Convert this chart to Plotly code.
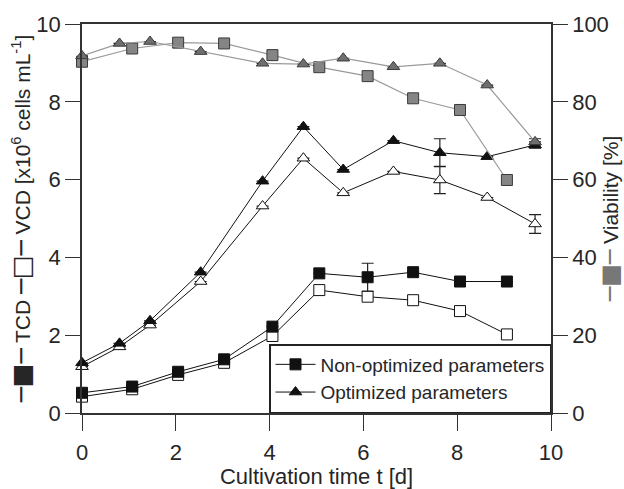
import plotly.graph_objects as go

# ---- data ----
t_non = [0, 1.07, 2.05, 3.03, 4.06, 5.06, 6.09, 7.06, 8.06, 9.06]
tcd_non = [0.52, 0.68, 1.06, 1.38, 2.22, 3.59, 3.49, 3.62, 3.38, 3.38]
tcd_non_err = [0, 0, 0, 0, 0, 0, 0.36, 0, 0, 0]
vcd_non = [0.42, 0.61, 0.98, 1.29, 1.98, 3.16, 2.99, 2.90, 2.62, 2.02]
via_non = [90.3, 93.7, 95.2, 95.0, 92.0, 88.9, 86.6, 80.9, 77.9, 59.9]

t_opt = [0, 0.80, 1.45, 2.53, 3.85, 4.72, 5.57, 6.64, 7.63, 8.64, 9.66]
tcd_opt = [1.29, 1.79, 2.37, 3.62, 5.96, 7.36, 6.26, 7.00, 6.69, 6.59, 6.89]
tcd_opt_err = [0, 0, 0, 0, 0, 0, 0, 0, 0.36, 0, 0.08]
vcd_opt = [1.19, 1.70, 2.26, 3.38, 5.32, 6.55, 5.66, 6.21, 5.99, 5.54, 4.86]
vcd_opt_err = [0, 0, 0, 0, 0, 0, 0, 0, 0.35, 0, 0.24]
via_opt = [91.8, 95.0, 95.5, 92.9, 89.9, 89.7, 91.2, 89.0, 89.9, 84.3, 69.7]
via_opt_err = [0, 0, 0, 0, 0, 0, 0, 0, 0, 0, 0.8]

x_ticks = [0, 2, 4, 6, 8, 10]
y_ticks = [0, 2, 4, 6, 8, 10]
y2_ticks = [0, 20, 40, 60, 80, 100]

FONT = "Liberation Sans, Arial, DejaVu Sans, sans-serif"
TXT = "#262626"
AX = "#333333"

fig = go.Figure()

def err(vals):
    return dict(type="data", array=vals, visible=True, color="#222222",
                thickness=1.2, width=6)

# viability lines (right axis)
fig.add_trace(go.Scatter(
    x=t_non, y=via_non, yaxis="y2", mode="lines+markers", showlegend=False,
    line=dict(color="#9a9a9a", width=1.2), cliponaxis=False,
    marker=dict(symbol="square", size=11, color="#858585",
                line=dict(color="#3a3a3a", width=1))))
fig.add_trace(go.Scatter(
    x=t_opt, y=via_opt, yaxis="y2", mode="lines+markers", showlegend=False,
    line=dict(color="#9a9a9a", width=1.2), cliponaxis=False,
    error_y=err(via_opt_err),
    marker=dict(symbol="triangle-up", size=11, color="#6f6f6f",
                line=dict(color="#3a3a3a", width=1))))

# VCD (open) traces
fig.add_trace(go.Scatter(
    x=t_non, y=vcd_non, mode="lines+markers", showlegend=False,
    line=dict(color="#111111", width=1), cliponaxis=False,
    marker=dict(symbol="square", size=11, color="white",
                line=dict(color="#111111", width=1))))
fig.add_trace(go.Scatter(
    x=t_opt, y=vcd_opt, mode="lines+markers", showlegend=False,
    line=dict(color="#111111", width=1), cliponaxis=False,
    error_y=err(vcd_opt_err),
    marker=dict(symbol="triangle-up", size=11, color="white",
                line=dict(color="#111111", width=1))))

# TCD (filled) traces
fig.add_trace(go.Scatter(
    x=t_non, y=tcd_non, mode="lines+markers", name="Non-optimized parameters",
    line=dict(color="#111111", width=1), cliponaxis=False,
    error_y=err(tcd_non_err),
    marker=dict(symbol="square", size=11, color="#111111",
                line=dict(color="#111111", width=1))))
fig.add_trace(go.Scatter(
    x=t_opt, y=tcd_opt, mode="lines+markers", name="Optimized parameters",
    line=dict(color="#111111", width=1), cliponaxis=False,
    error_y=err(tcd_opt_err),
    marker=dict(symbol="triangle-up", size=11, color="#111111",
                line=dict(color="#111111", width=1))))

left_title = ("<span style='font-family:DejaVu Sans;font-size:25px'>─■─</span> TCD "
              "<span style='font-family:DejaVu Sans;font-size:25px'>─□─</span> VCD "
              "[x10<sup>6</sup> cells mL<sup>-1</sup>]")
right_title = ("<span style='font-family:DejaVu Sans;font-size:24px;color:#777777'>─■─</span> "
               "Viability [%]")

fig.update_layout(
    width=624, height=489,
    margin=dict(l=82, r=73, t=24, b=76),
    paper_bgcolor="white", plot_bgcolor="white",
    font=dict(family=FONT, size=22, color=TXT),
    showlegend=True,
    legend=dict(x=1, xanchor="right", y=0, yanchor="bottom",
                bgcolor="white", bordercolor="#222222", borderwidth=1.5,
                font=dict(size=19, color=TXT), itemwidth=40,
                tracegroupgap=0),
    xaxis=dict(range=[0, 10], tickvals=x_ticks, ticks="outside", ticklen=16,
               tickwidth=1.2, tickcolor=AX, showline=True, linecolor=AX,
               linewidth=1.5, mirror=True, showgrid=False, zeroline=False,
               automargin=False, ticklabelstandoff=3,
               title=dict(text="Cultivation time t [d]", standoff=8,
                          font=dict(size=22)),
               tickfont=dict(size=22)),
    yaxis=dict(range=[0, 10], tickvals=y_ticks, ticks="outside", ticklen=15,
               tickwidth=1.2, tickcolor=AX, showline=True, linecolor=AX,
               linewidth=1.5, mirror=True, showgrid=False, zeroline=False,
               automargin=False,
               title=dict(text=left_title, standoff=0, font=dict(size=21)),
               tickfont=dict(size=22)),
    yaxis2=dict(range=[0, 100], tickvals=y2_ticks, overlaying="y", side="right",
                ticks="outside", ticklen=15, tickwidth=1.2, tickcolor=AX,
                showline=True, linecolor=AX, linewidth=1.5, showgrid=False,
                zeroline=False, automargin=False,
                title=dict(text=right_title, standoff=4, font=dict(size=21)),
                tickfont=dict(size=22)),
)

fig.write_html("out.html")
